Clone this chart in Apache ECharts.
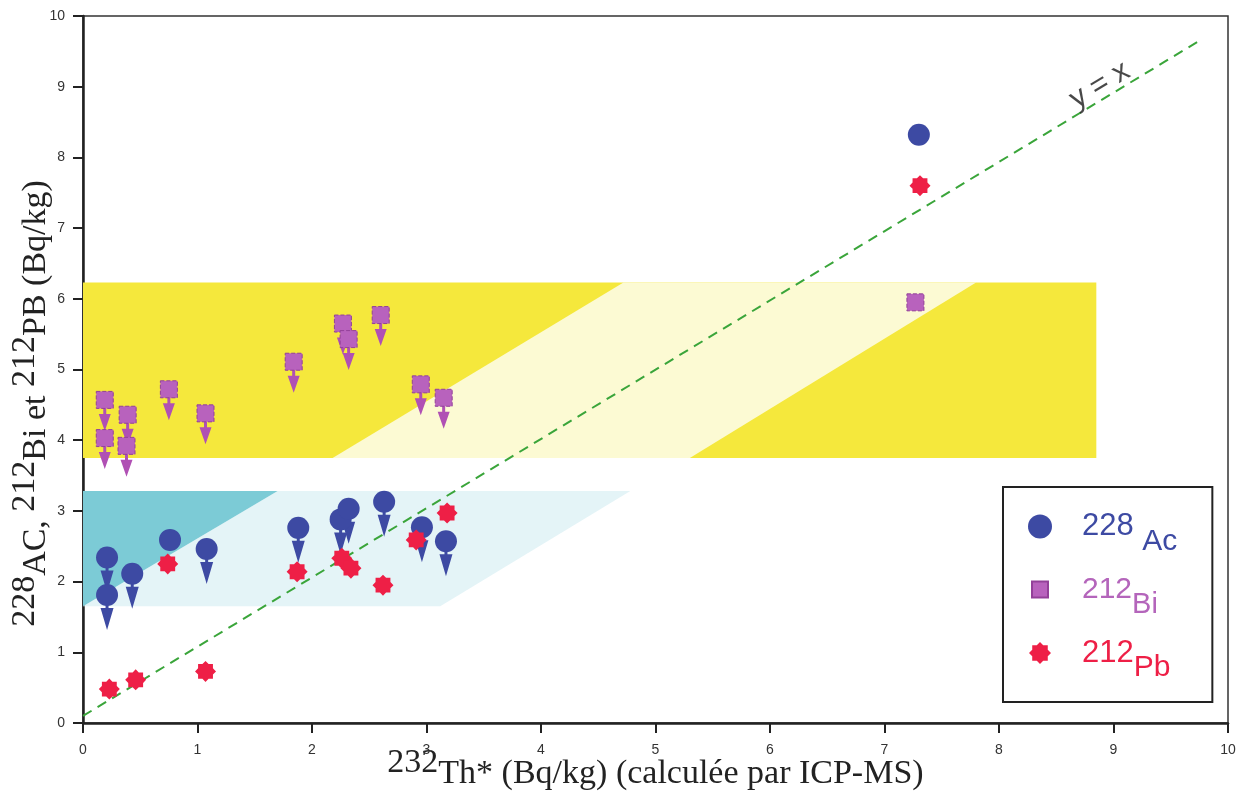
<!DOCTYPE html>
<html><head><meta charset="utf-8">
<script src="https://cdn.jsdelivr.net/npm/echarts@6/dist/echarts.min.js"></script>
<style>html,body{margin:0;padding:0;background:#fff}#c{width:1240px;height:792px}</style>
</head><body><div id="c"></div>
<script>
// ---- data ----
const acX = [0.21, 0.21, 0.43, 0.76, 1.08, 1.88, 2.25, 2.32, 2.63, 2.96, 3.17, 7.30];
const acY = [2.34, 1.81, 2.11, 2.59, 2.46, 2.76, 2.88, 3.03, 3.13, 2.77, 2.57, 8.32];
const acLimit = [1, 1, 1, 0, 1, 1, 1, 1, 1, 1, 1, 0];

const biX = [0.19, 0.19, 0.39, 0.38, 0.75, 1.07, 1.84, 2.27, 2.32, 2.60, 2.95, 3.15, 7.27];
const biY = [4.57, 4.03, 4.36, 3.92, 4.72, 4.38, 5.11, 5.65, 5.43, 5.77, 4.79, 4.60, 5.95];
const biLimit = [1, 1, 1, 1, 1, 1, 1, 1, 1, 1, 1, 1, 0];

const pbX = [0.23, 0.46, 0.74, 1.07, 1.87, 2.26, 2.34, 2.62, 2.91, 3.18, 7.31];
const pbY = [0.48, 0.61, 2.25, 0.73, 2.14, 2.33, 2.19, 1.95, 2.59, 2.97, 7.60];

const yxLine = [[0, 0.1], [9.75, 9.65]];
const yxLabelAt = [8.88, 9.02];

const yellowBand = [[0, 3.75], [8.85, 3.75], [8.85, 6.23], [0, 6.23]];
const paleYellowBand = [[2.18, 3.75], [5.30, 3.75], [7.80, 6.23], [4.72, 6.23]];
const paleCyanBand = [[0, 1.65], [3.12, 1.65], [4.78, 3.28], [1.70, 3.28]];
const cyanTriangle = [[0, 1.65], [1.70, 3.28], [0, 3.28]];

const bandPolys = [yellowBand, paleYellowBand, paleCyanBand, cyanTriangle];
const bandColors = ['#f5e83c', '#fcfad3', '#e4f4f7', '#7ccbd6'];

// ---- styling ----
const serif = '"Liberation Serif", "Times New Roman", serif';
const sans = '"Liberation Sans", Arial, sans-serif';
const BLUE = '#3d4aa3', PURPLE = '#b862bd', RED = '#ee1f46';

function starPath(cx, cy, ro, ri, n) {
  let d = '';
  for (let i = 0; i < 2 * n; i++) {
    const r = i % 2 === 0 ? ro : ri;
    const a = -Math.PI / 2 + i * Math.PI / n;
    d += (i === 0 ? 'M' : 'L') + (cx + r * Math.cos(a)).toFixed(2) + ',' + (cy + r * Math.sin(a)).toFixed(2) + ' ';
  }
  return d + 'Z';
}
const STAR = 'path://' + starPath(12, 12, 12, 9.2, 8);
const STAR_ICON = 'path://M0,0 M24,24 ' + starPath(12, 12, 11, 8.4, 8);
const SQUARE_ICON = 'path://M0,0 M24,24 M4,4 L20,4 L20,20 L4,20 Z';
const AC_ARROW = 'path://M5,0 L8,0 L8,13 L13,13 L6.5,35 L0,13 L5,13 Z';
const BI_ARROW = 'path://M4.5,0 L7.5,0 L7.5,14 L12,14 L6,31 L0,14 L4.5,14 Z';

const zip = (xs, ys) => xs.map((x, i) => [x, ys[i]]);
const acPts = zip(acX, acY), biPts = zip(biX, biY), pbPts = zip(pbX, pbY);
const acLim = acPts.filter((p, i) => acLimit[i]);
const biLim = biPts.filter((p, i) => biLimit[i]);

const nameRich = {
  s: {fontFamily: serif, fontSize: 34, color: '#222', lineHeight: 30, verticalAlign: 'top'},
  b: {fontFamily: serif, fontSize: 34, color: '#222', lineHeight: 56, verticalAlign: 'middle'}
};

const chart = echarts.init(document.getElementById('c'), null, {renderer: 'canvas'});
chart.setOption({
  animation: false,
  backgroundColor: '#fff',
  grid: {left: 83, right: 12, top: 16, bottom: 69, show: true, borderColor: '#333', borderWidth: 1.5,
         containLabel: false, outerBoundsMode: 'none'},
  xAxis: {
    type: 'value', min: 0, max: 10, interval: 1,
    name: '{s|232}{b|Th* (Bq/kg) (calculée par ICP-MS)}',
    nameLocation: 'middle', nameGap: 23, nameMoveOverlap: false,
    nameTextStyle: {fontFamily: serif, fontSize: 34, color: '#222', rich: nameRich},
    axisLine: {onZero: false, lineStyle: {color: '#222', width: 2.5}},
    axisTick: {inside: false, length: 10, lineStyle: {color: '#222', width: 2}},
    axisLabel: {fontFamily: sans, fontSize: 14, color: '#333', margin: 20},
    splitLine: {show: false}
  },
  yAxis: {
    type: 'value', min: 0, max: 10, interval: 1,
    name: '{s|228}{b|AC, }{s|212}{b|Bi et }{s|212}{b|PB (Bq/kg)}',
    nameLocation: 'middle', nameGap: 19, nameMoveOverlap: false,
    nameTextStyle: {fontFamily: serif, fontSize: 34, color: '#222', rich: nameRich, padding: [0, 68, 0, 0]},
    axisLine: {onZero: false, lineStyle: {color: '#222', width: 2.5}},
    axisTick: {inside: false, length: 10, lineStyle: {color: '#222', width: 2}},
    axisLabel: {fontFamily: sans, fontSize: 14, color: '#333', margin: 18},
    splitLine: {show: false}
  },
  legend: {
    orient: 'vertical', left: 1003, top: 487,
    padding: [24, 35, 19, 24],
    itemWidth: 74, itemHeight: 24, itemGap: 18,
    borderColor: '#222', borderWidth: 2, backgroundColor: '#fff',
    data: [
      {name: '228Ac', icon: 'circle'},
      {name: '212Bi', icon: SQUARE_ICON},
      {name: '212Pb', icon: STAR_ICON}
    ],
    formatter: n => ({'228Ac': '{acN|228 }{acS|Ac}', '212Bi': '{biN|212}{biS|Bi}', '212Pb': '{pbN|212}{pbS|Pb}'})[n],
    textStyle: {
      fontFamily: sans,
      rich: {
        acN: {fontFamily: sans, fontSize: 31, color: BLUE, lineHeight: 60, verticalAlign: 'middle'},
        acS: {fontFamily: sans, fontSize: 30, color: BLUE, lineHeight: 38, verticalAlign: 'bottom'},
        biN: {fontFamily: sans, fontSize: 30, color: '#b465bb', lineHeight: 60, verticalAlign: 'middle'},
        biS: {fontFamily: sans, fontSize: 29, color: '#b465bb', lineHeight: 38, verticalAlign: 'bottom'},
        pbN: {fontFamily: sans, fontSize: 31, color: RED, lineHeight: 60, verticalAlign: 'middle'},
        pbS: {fontFamily: sans, fontSize: 30, color: RED, lineHeight: 38, verticalAlign: 'bottom'}
      }
    }
  },
  series: [
    {
      type: 'custom', name: 'bands', silent: true, z: 1,
      data: bandPolys.map(p => p[0]),
      renderItem: (params, api) => ({
        type: 'polygon',
        shape: {points: bandPolys[params.dataIndex].map(p => api.coord(p))},
        style: {fill: bandColors[params.dataIndex]}
      })
    },
    {
      type: 'line', name: 'y = x', data: yxLine, symbol: 'none', z: 2,
      lineStyle: {color: '#3aa53a', width: 2, type: [10, 7]}
    },
    {
      type: 'scatter', name: 'yxlabel', data: [yxLabelAt], symbolSize: 0, z: 2,
      label: {show: true, position: 'inside', formatter: 'y = x', rotate: 31,
        fontFamily: sans, fontSize: 30, color: '#1a1a1a'}
    },
    {
      type: 'scatter', name: 'biArrows', data: biLim, symbol: BI_ARROW,
      symbolSize: [12, 31], symbolOffset: [0, 15.5], itemStyle: {color: '#b050b4', opacity: 1}, z: 3
    },
    {
      type: 'scatter', name: '212Bi', data: biPts, symbol: 'rect', symbolSize: 17, z: 3,
      itemStyle: {color: PURPLE, opacity: 1, borderColor: '#934099', borderWidth: 1, borderType: 'dashed'}
    },
    {
      type: 'scatter', name: 'acArrows', data: acLim, symbol: AC_ARROW,
      symbolSize: [13, 35], symbolOffset: [0, 17.5], itemStyle: {color: BLUE, opacity: 1}, z: 3
    },
    {
      type: 'scatter', name: '228Ac', data: acPts, symbol: 'circle', symbolSize: 22, z: 3,
      itemStyle: {color: BLUE, opacity: 1}
    },
    {
      type: 'scatter', name: '212Pb', data: pbPts, symbol: STAR, symbolSize: 21, z: 3,
      itemStyle: {color: RED, opacity: 1}
    }
  ]
});
</script></body></html>
